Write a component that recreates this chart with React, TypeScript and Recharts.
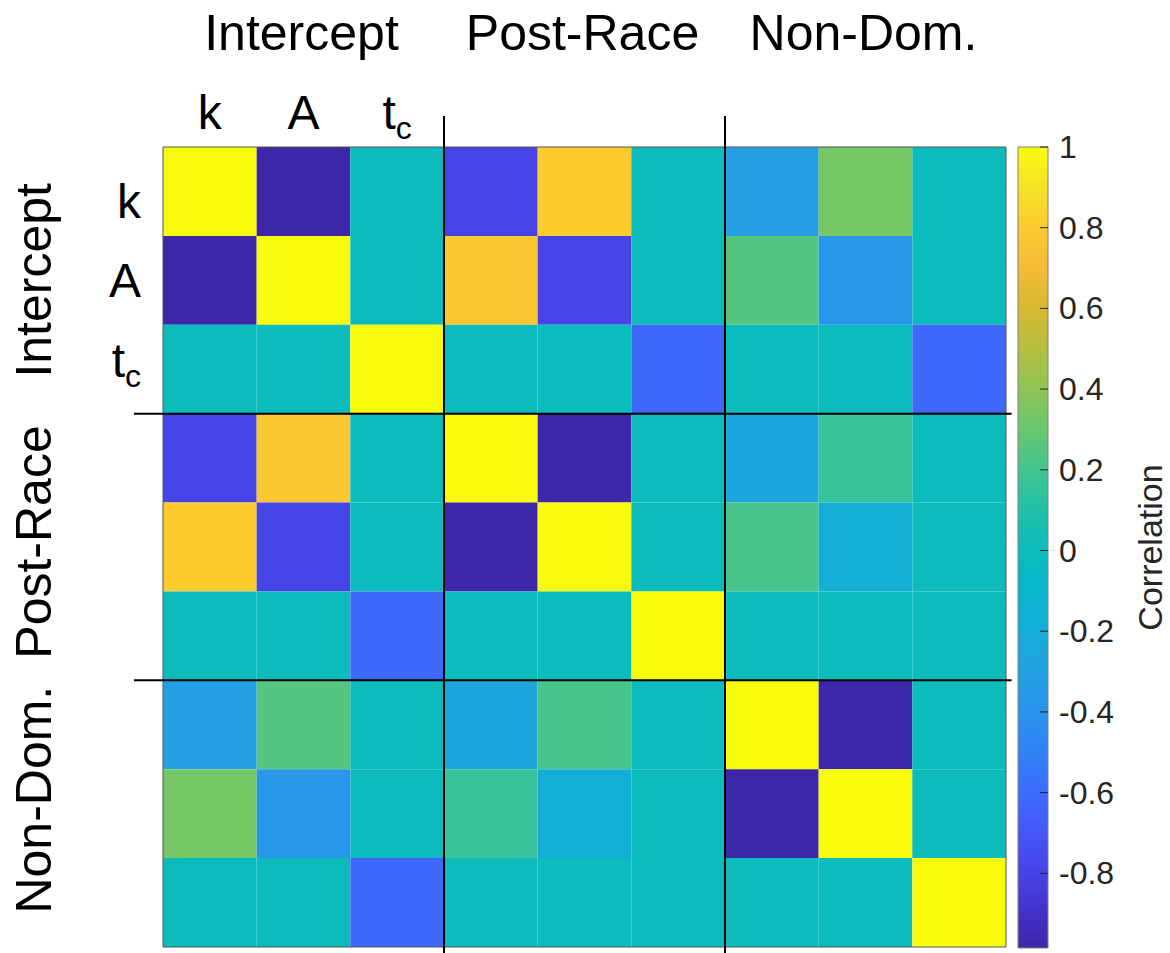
import React from 'react';
import {
  ScatterChart,
  Scatter,
  XAxis,
  YAxis,
  ReferenceArea,
  ReferenceLine,
  Label
} from 'recharts';

// parameter blocks (rows / columns of the matrix)
const groups = ['Intercept', 'Post-Race', 'Non-Dom.'];
const params = ['k', 'A', 'tc'];

// correlation matrix, row order = column order:
// Intercept k, A, tc | Post-Race k, A, tc | Non-Dom. k, A, tc
const corr: number[][] = [
  [1, -0.985, 0, -0.79, 0.81, 0, -0.31, 0.335, 0],
  [-0.985, 1, 0, 0.79, -0.79, 0, 0.245, -0.37, 0],
  [0, 0, 1, 0, 0, -0.62, 0, 0, -0.62],
  [-0.79, 0.79, 0, 1, -0.985, 0, -0.25, 0.16, 0],
  [0.81, -0.79, 0, -0.985, 1, 0, 0.215, -0.18, 0],
  [0, 0, -0.62, 0, 0, 1, 0, 0, 0],
  [-0.31, 0.245, 0, -0.25, 0.215, 0, 1, -0.985, 0],
  [0.335, -0.37, 0, 0.16, -0.18, 0, -0.985, 1, 0],
  [0, 0, -0.62, 0, 0, 0, 0, 0, 1]
];

const colorbarTicks = [-0.8, -0.6, -0.4, -0.2, 0, 0.2, 0.4, 0.6, 0.8, 1];
const colorbarLabels = ['-0.8', '-0.6', '-0.4', '-0.2', '0', '0.2', '0.4', '0.6', '0.8', '1'];

const CMIN = -0.985;
const CMAX = 1;

// parula-like colour map
const parulaStops = [
  '#3E26A8', '#4434CC', '#4745E8', '#4459F8', '#3B6FFD', '#2F84F4', '#2A94EB',
  '#22A2E1', '#14ADD8', '#06B6CA', '#0CBCBB', '#24C0A6', '#45C58E', '#6AC86C',
  '#91C455', '#B7BE40', '#D8B831', '#F5BB38', '#FDCA30', '#F4E326', '#F9FB0E'
];

const hexToRgb = (h: string) => [
  parseInt(h.slice(1, 3), 16),
  parseInt(h.slice(3, 5), 16),
  parseInt(h.slice(5, 7), 16)
];

const parula = (v: number) => {
  const t = Math.min(1, Math.max(0, (v - CMIN) / (CMAX - CMIN)));
  const p = t * (parulaStops.length - 1);
  const i = Math.min(parulaStops.length - 2, Math.floor(p));
  const f = p - i;
  const a = hexToRgb(parulaStops[i]);
  const b = hexToRgb(parulaStops[i + 1]);
  const c = a.map((x, k) => Math.round(x + (b[k] - x) * f));
  return `rgb(${c[0]},${c[1]},${c[2]})`;
};

const n = corr.length;
const centers = corr.map((_, i) => i + 0.5);
const cells = corr.flatMap((row, r) => row.map((v, c) => ({ r, c, v })));
const points = centers.map((x) => ({ x, y: x }));

const FONT = '"Liberation Sans", Arial, Helvetica, sans-serif';

// small hand nudges of the text labels, as in the original figure
const rowLabelDy = [27, 17, 8];
const sideTitleDy = [0, -5, -14];

const ParamText = ({ x, y, name, anchor }: any) =>
  name === 'tc' ? (
    <text x={x} y={y} fontSize={48} textAnchor={anchor} fill="#000">
      t<tspan fontSize={32} dy={10}>c</tspan>
    </text>
  ) : (
    <text x={x} y={y} fontSize={48} textAnchor={anchor} fill="#000">
      {name}
    </text>
  );

const TopTick = ({ x, y, payload }: any) => {
  const i = Math.floor(payload.value);
  return (
    <g>
      {i < 3 && <ParamText x={x} y={y - 18} name={params[i]} anchor="middle" />}
      {i % 3 === 1 && (
        <text x={x - 2} y={y - 97} fontSize={50} textAnchor="middle" fill="#000">
          {groups[(i - 1) / 3]}
        </text>
      )}
    </g>
  );
};

const LeftTick = ({ x, y, payload }: any) => {
  const i = Math.floor(payload.value);
  const g = (i - 1) / 3;
  const ty = y + (i % 3 === 1 ? sideTitleDy[g] : 0);
  return (
    <g>
      {i < 3 && <ParamText x={x - 22} y={y + rowLabelDy[i]} name={params[i]} anchor="end" />}
      {i % 3 === 1 && (
        <text
          x={x - 112}
          y={ty}
          fontSize={50}
          textAnchor="middle"
          fill="#000"
          transform={`rotate(-90, ${x - 112}, ${ty})`}
        >
          {groups[g]}
        </text>
      )}
    </g>
  );
};

const ColorbarTick = ({ x, y, payload }: any) => {
  const k = colorbarTicks.indexOf(payload.value);
  return (
    <g>
      <line x1={x - 19} x2={x - 11} y1={y} y2={y} stroke="#262626" strokeWidth={1} />
      <text x={x} y={y} dy={11} fontSize={32} fill="#262626" textAnchor="start">
        {colorbarLabels[k]}
      </text>
    </g>
  );
};

const ColorbarTitle = ({ viewBox }: any) => {
  const x = viewBox.x + 114;
  const y = viewBox.y + viewBox.height / 2;
  return (
    <text x={x} y={y} fontSize={34} fill="#262626" textAnchor="middle" transform={`rotate(-90, ${x}, ${y})`}>
      Correlation
    </text>
  );
};

const gradStops = parulaStops
  .map((c, i) => ({ c, off: 1 - i / (parulaStops.length - 1) }))
  .reverse();

const App = () => (
  <div style={{ position: 'absolute', left: 0, top: 0, width: 1170, height: 953, fontFamily: FONT, background: '#fff' }}>
    <div style={{ position: 'absolute', left: 0, top: 0 }}>
      <ScatterChart width={1170} height={953} margin={{ top: 0, right: 164, bottom: 6, left: 0 }}>
        <XAxis
          type="number"
          dataKey="x"
          orientation="top"
          domain={[0, n]}
          ticks={centers}
          interval={0}
          height={147}
          tickSize={0}
          tickMargin={0}
          axisLine={false}
          tickLine={false}
          tick={TopTick}
        />
        <YAxis
          type="number"
          dataKey="y"
          domain={[0, n]}
          reversed
          ticks={centers}
          interval={0}
          width={163}
          tickSize={0}
          tickMargin={0}
          axisLine={false}
          tickLine={false}
          tick={LeftTick}
        />
        <Scatter data={points} isAnimationActive={false} shape={() => <g />} />
        {cells.map((d) => (
          <ReferenceArea
            key={`${d.r}-${d.c}`}
            x1={d.c}
            x2={d.c + 1}
            y1={d.r}
            y2={d.r + 1}
            fill={parula(d.v)}
            fillOpacity={1}
            stroke="none"
          />
        ))}
        <ReferenceArea x1={0} x2={n} y1={0} y2={n} fill="none" stroke="#555" strokeWidth={1} />
        {[3, 6].map((b) => (
          <ReferenceLine
            key={`v${b}`}
            segment={[{ x: b, y: -0.35 }, { x: b, y: 9.08 }]}
            ifOverflow="visible"
            stroke="#000"
            strokeWidth={2}
          />
        ))}
        {[3, 6].map((b) => (
          <ReferenceLine
            key={`h${b}`}
            segment={[{ x: -0.31, y: b }, { x: 9.06, y: b }]}
            ifOverflow="visible"
            stroke="#000"
            strokeWidth={2}
          />
        ))}
      </ScatterChart>
    </div>
    <div style={{ position: 'absolute', left: 1010, top: 0 }}>
      <ScatterChart width={160} height={953} margin={{ top: 147, right: 0, bottom: 5, left: 8 }}>
        <defs>
          <linearGradient id="parulaBar" x1="0" y1="0" x2="0" y2="1">
            {gradStops.map((s, i) => (
              <stop key={i} offset={s.off} stopColor={s.c} />
            ))}
          </linearGradient>
        </defs>
        <XAxis type="number" dataKey="x" domain={[0, 1]} hide />
        <YAxis
          type="number"
          dataKey="y"
          orientation="right"
          domain={[CMIN, CMAX]}
          ticks={colorbarTicks}
          interval={0}
          width={122}
          tickSize={0}
          tickMargin={11}
          axisLine={false}
          tickLine={false}
          tick={ColorbarTick}
        >
          <Label content={ColorbarTitle} />
        </YAxis>
        <Scatter data={[{ x: 0.5, y: 0 }]} isAnimationActive={false} shape={() => <g />} />
        <ReferenceArea
          x1={0}
          x2={1}
          y1={CMIN}
          y2={CMAX}
          fill="url(#parulaBar)"
          fillOpacity={1}
          stroke="#808080"
          strokeWidth={1}
        />
      </ScatterChart>
    </div>
  </div>
);

export default App;
